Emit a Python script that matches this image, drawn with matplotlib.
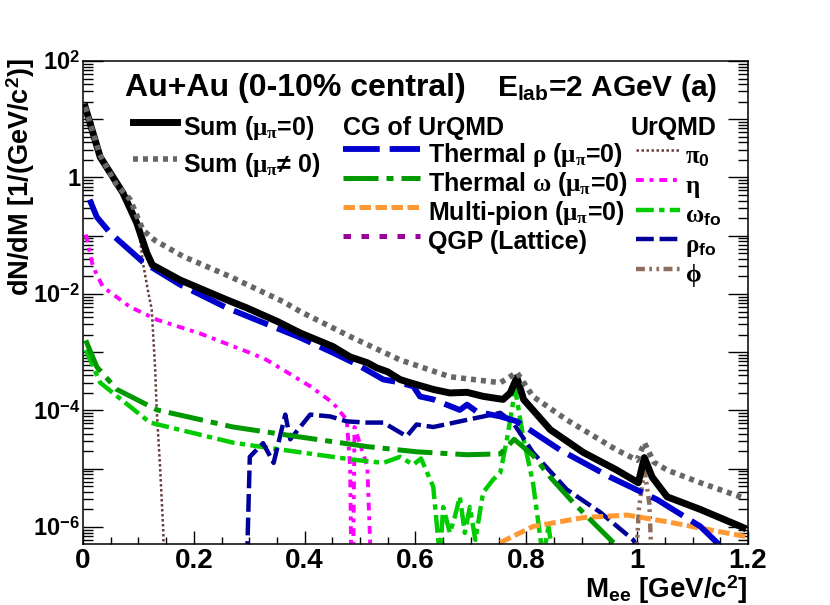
import matplotlib
matplotlib.use("Agg")
import matplotlib.pyplot as plt
import numpy as np
from matplotlib.ticker import LogLocator, MultipleLocator, FuncFormatter, NullFormatter

plt.rcParams['font.family'] = ['Liberation Sans', 'DejaVu Sans']
plt.rcParams['font.weight'] = 'bold'
plt.rcParams['axes.labelweight'] = 'bold'
plt.rcParams['mathtext.fontset'] = 'custom'
plt.rcParams['mathtext.rm'] = 'Liberation Sans:bold'
plt.rcParams['mathtext.bf'] = 'Liberation Sans:bold'
plt.rcParams['mathtext.sf'] = 'Liberation Sans:bold'
plt.rcParams['mathtext.it'] = 'Liberation Serif'   # greek letters, like ROOT's symbol font

LOW = 1e-8  # below the visible range

# Sum (mu_pi = 0)
sum0_m = [0.004, 0.031, 0.072, 0.097, 0.115, 0.125, 0.175, 0.26, 0.296, 0.35, 0.392, 0.451,
          0.482, 0.513, 0.53, 0.55, 0.572, 0.59, 0.632, 0.662, 0.693, 0.722, 0.758, 0.771,
          0.783, 0.795, 0.843, 0.903, 0.963, 1.002, 1.013, 1.027, 1.054, 1.114, 1.191]
sum0_y = [16.2, 2.25, 0.545, 0.166, 0.051, 0.0316, 0.0174, 7.9e-3, 5.75e-3, 3.4e-3, 2.14e-3, 1.25e-3,
          8.3e-4, 6.6e-4, 5.4e-4, 4.6e-4, 3.4e-4, 3.0e-4, 2.3e-4, 2.0e-4, 2.05e-4, 1.75e-4, 1.55e-4, 2.0e-4,
          3.7e-4, 1.55e-4, 4.7e-5, 1.9e-5, 9.5e-6, 5.75e-6, 1.55e-5, 7.2e-6, 3.3e-6, 2.0e-6, 9.8e-7]

# Sum (mu_pi != 0)
sumx_m = [0.004, 0.03, 0.06, 0.085, 0.108, 0.13, 0.181, 0.265, 0.361, 0.392, 0.482, 0.572,
          0.662, 0.753, 0.783, 0.812, 0.873, 0.963, 1.0, 1.013, 1.03, 1.054, 1.114, 1.19]
sumx_y = [16.2, 2.5, 0.76, 0.42, 0.126, 0.083, 0.044, 0.020, 7.4e-3, 5.0e-3, 1.86e-3, 7.4e-4,
          3.8e-4, 3.0e-4, 4.5e-4, 1.74e-4, 6.9e-5, 2.1e-5, 1.4e-5, 2.8e-5, 1.3e-5, 9.5e-6, 5.75e-6, 3.2e-6]

# CG of UrQMD: thermal rho
trho_m = [0.012, 0.025, 0.049, 0.108, 0.175, 0.26, 0.392, 0.451, 0.494, 0.542, 0.566, 0.596,
          0.608, 0.632, 0.68, 0.693, 0.711, 0.753, 0.783, 0.861, 0.951, 1.036, 1.114, 1.144, 1.16]
trho_y = [0.417, 0.209, 0.112, 0.0355, 0.0145, 5.75e-3, 1.78e-3, 9.8e-4, 6.2e-4, 3.4e-4, 3.1e-4, 2.6e-4,
          1.74e-4, 1.55e-4, 1.02e-4, 1.26e-4, 9.5e-5, 7.9e-5, 6.5e-5, 2.1e-5, 7.2e-6, 2.95e-6, 1.02e-6, 5.4e-7, 3.2e-7]

# thermal omega
tome_m = [0.005, 0.025, 0.061, 0.134, 0.271, 0.392, 0.513, 0.603, 0.693, 0.753, 0.778,
          0.812, 0.843, 0.885, 0.933, 0.957, 1.0]
tome_y = [1.6e-3, 5.6e-4, 2.3e-4, 1.02e-4, 5.2e-5, 3.5e-5, 2.4e-5, 1.95e-5, 1.74e-5, 1.8e-5, 3.2e-5,
          1.7e-5, 7.2e-6, 2.6e-6, 9.1e-7, 5.4e-7, 2.5e-7]

# multi-pion
mpi_m = [0.753, 0.812, 0.903, 0.982, 1.054, 1.126, 1.195]
mpi_y = [5.4e-7, 1.02e-6, 1.45e-6, 1.6e-6, 1.23e-6, 9.1e-7, 6.9e-7]

# QGP (Lattice): below the plotted range
qgp_m = []
qgp_y = []

# UrQMD cocktail: pi0 Dalitz
pi0_m = [0.005, 0.031, 0.072, 0.09, 0.103, 0.108, 0.117, 0.124, 0.13, 0.133, 0.139, 0.145, 0.148]
pi0_y = [15.8, 2.1, 0.5, 0.275, 0.085, 0.035, 0.0117, 5.4e-3, 5.6e-4, 1.02e-4, 1.1e-5, 8e-7, LOW]

# eta
eta_m = [0.005, 0.018, 0.036, 0.085, 0.134, 0.211, 0.301, 0.33, 0.361, 0.41, 0.451, 0.476,
         0.482, 0.486, 0.49, 0.513, 0.525]
eta_y = [0.105, 0.0295, 0.0132, 6.0e-3, 3.6e-3, 2.1e-3, 9.8e-4, 7.5e-4, 5.0e-4, 2.6e-4, 1.35e-4, 6.9e-5,
         1.1e-5, LOW, 5.2e-5, 1.1e-5, LOW]

# omega (freeze-out)
omfo_m = [0.005, 0.031, 0.121, 0.271, 0.332, 0.451, 0.482, 0.542, 0.572, 0.596, 0.61, 0.632,
          0.644, 0.650, 0.662, 0.671, 0.680, 0.689, 0.698, 0.708, 0.722, 0.740, 0.753, 0.765,
          0.78, 0.795, 0.812, 0.83, 0.84, 0.85]
omfo_y = [1.1e-3, 3.0e-4, 6.2e-5, 2.8e-5, 2.3e-5, 1.6e-5, 1.45e-5, 1.26e-5, 1.6e-5, 1.17e-5, 1.5e-5, 4.9e-6,
          3e-7, 2.2e-6, 7.9e-7, 1.5e-6, 3.3e-6, 7.9e-7, 2.2e-6, 6e-7, 3.9e-6, 6.5e-6, 8.5e-6, 3.2e-5,
          2.3e-4, 3.2e-5, 5.75e-6, 3e-7, 1e-6, 2.5e-7]

# rho (freeze-out)
rhofo_m = [0.292, 0.301, 0.325, 0.344, 0.365, 0.374, 0.41, 0.446, 0.476, 0.512, 0.542, 0.584,
           0.602, 0.632, 0.693, 0.753, 0.776, 0.812, 0.873, 0.933, 0.993, 1.01]
rhofo_y = [LOW, 1.6e-5, 2.75e-5, 1.26e-5, 8.5e-5, 3.2e-5, 8.5e-5, 7.9e-5, 6.5e-5, 6.2e-5, 6.2e-5, 3.6e-5,
           5.75e-5, 5.2e-5, 6.9e-5, 9.1e-5, 6.2e-5, 1.9e-5, 4.4e-6, 1.8e-6, 6e-7, 3e-7]

# phi
phi_m = [0.99, 1.003, 1.013, 1.022, 1.032]
phi_y = [LOW, 2e-6, 1e-5, 2.5e-6, LOW]

fig = plt.figure(figsize=(8.3, 6.05), dpi=100)
ax = fig.add_axes([0.1, 0.1008, 0.8012, 0.7984])

l_pi0, = ax.plot(pi0_m, pi0_y, color='#6b3b3b', lw=1.8, dashes=(1, 1))
l_eta, = ax.plot(eta_m, eta_y, color='#ff00ff', lw=2.8, dashes=(2, 1.5, 1, 1.5))
l_omfo, = ax.plot(omfo_m, omfo_y, color='#00cc00', lw=3.2, dashes=(4, 1.2, 1.2, 1.2))
l_rhofo, = ax.plot(rhofo_m, rhofo_y, color='#000099', lw=3.2, dashes=(4, 1.3))
l_phi, = ax.plot(phi_m, phi_y, color='#8c6e5d', lw=3.2, dashes=(2, 1, 0.6, 1, 0.6, 1))
l_qgp, = ax.plot(qgp_m, qgp_y, color='#990099', lw=3.6, dashes=(1.5, 2.1))
l_mpi, = ax.plot(mpi_m, mpi_y, color='#ff9933', lw=3.6, dashes=(2.3, 0.9))
l_tome, = ax.plot(tome_m, tome_y, color='#009900', lw=3.6, dashes=(7, 1.6, 1.4, 1.6))
l_trho, = ax.plot(trho_m, trho_y, color='#0000cc', lw=4.2, dashes=(6.3, 1.7))
l_sum0, = ax.plot(sum0_m, sum0_y, color='black', lw=5.0)
l_sumx, = ax.plot(sumx_m, sumx_y, color='#666666', lw=4.0, dashes=(0.9, 0.9))

ax.set_yscale('log')
ax.set_xlim(0, 1.2)
ax.set_ylim(5.1e-7, 100)

# axes, ticks
for s in ax.spines.values():
    s.set_linewidth(1.1)
ax.xaxis.set_major_locator(MultipleLocator(0.2))
ax.xaxis.set_minor_locator(MultipleLocator(0.05))
ax.yaxis.set_major_locator(LogLocator(base=10, numticks=30))
ax.yaxis.set_minor_locator(LogLocator(base=10, subs=np.arange(2, 10), numticks=30))
ax.yaxis.set_minor_formatter(NullFormatter())


def ylab(v, pos):
    e = int(round(np.log10(v)))
    if e % 2 or e < -6 or e > 2:
        return ''
    if e == 0:
        return '1'
    return r'$10^{%d}$' % e


ax.yaxis.set_major_formatter(FuncFormatter(ylab))
ax.xaxis.set_major_formatter(FuncFormatter(lambda v, p: '%g' % v))
ax.tick_params(axis='x', which='major', direction='in', length=9.4, width=1.0, labelsize=20, pad=3, top=False)
ax.tick_params(axis='x', which='minor', direction='in', length=5, width=1.0, top=False)
ax.tick_params(axis='y', which='major', direction='in', length=14.4, width=1.0, labelsize=17, pad=2, right=True)
ax.tick_params(axis='y', which='minor', direction='in', length=7.2, width=1.0, right=True)

ax.set_xlabel(r'$\mathbf{M}_{\mathbf{ee}}$ [GeV/c$^{2}$]', fontsize=20, loc='right')
ax.xaxis.set_label_coords(1.0, -0.062)
ax.set_ylabel(r'dN/dM [1/(GeV/c$^{2}$)]', fontsize=19.5, loc='top')
ax.yaxis.set_label_coords(-0.069, 1.006)

# headline texts
ax.text(0.063, 0.9275, 'Au+Au (0-10% central)', transform=ax.transAxes, fontsize=23, va='baseline')
ax.text(0.6226, 0.9275, r'$\mathbf{E}_{\mathbf{lab}}$=2 AGeV (a)', transform=ax.transAxes,
        fontsize=21.5, va='baseline')
ax.text(0.391, 0.847, 'CG of UrQMD', transform=ax.transAxes, fontsize=18, va='baseline')
ax.text(0.824, 0.847, 'UrQMD', transform=ax.transAxes, fontsize=18, va='baseline')

# handleheight large enough that every row has the same height
leg_kw = dict(frameon=False, loc='upper left', borderpad=0, borderaxespad=0, fontsize=18,
              handleheight=1.8)
leg1 = ax.legend([l_sum0, l_sumx], [r'Sum ($\mu_{\pi}$=0)', r'Sum ($\mu_{\pi}$≠ 0)'],
                 bbox_to_anchor=(0.0752, 0.90), handlelength=1.76, handletextpad=0.24,
                 labelspacing=0.065, **leg_kw)
ax.add_artist(leg1)
leg2 = ax.legend([l_trho, l_tome, l_mpi, l_qgp],
                 [r'Thermal $\rho$ ($\mu_{\pi}$=0)', r'Thermal $\omega$ ($\mu_{\pi}$=0)',
                  r'Multi-pion ($\mu_{\pi}$=0)', 'QGP (Lattice)'],
                 bbox_to_anchor=(0.391, 0.844), handlelength=3.08, handletextpad=0.32,
                 labelspacing=-0.255, **leg_kw)
ax.add_artist(leg2)
leg3 = ax.legend([l_pi0, l_eta, l_omfo, l_rhofo, l_phi],
                 [r'$\pi_{0}$', r'$\eta$', r'$\omega_{\mathbf{fo}}$', r'$\rho_{\mathbf{fo}}$', r'$\phi$'],
                 bbox_to_anchor=(0.8316, 0.842), handlelength=1.76, handletextpad=0.2,
                 labelspacing=-0.225, **leg_kw)

fig.savefig('out.png', dpi=100)
